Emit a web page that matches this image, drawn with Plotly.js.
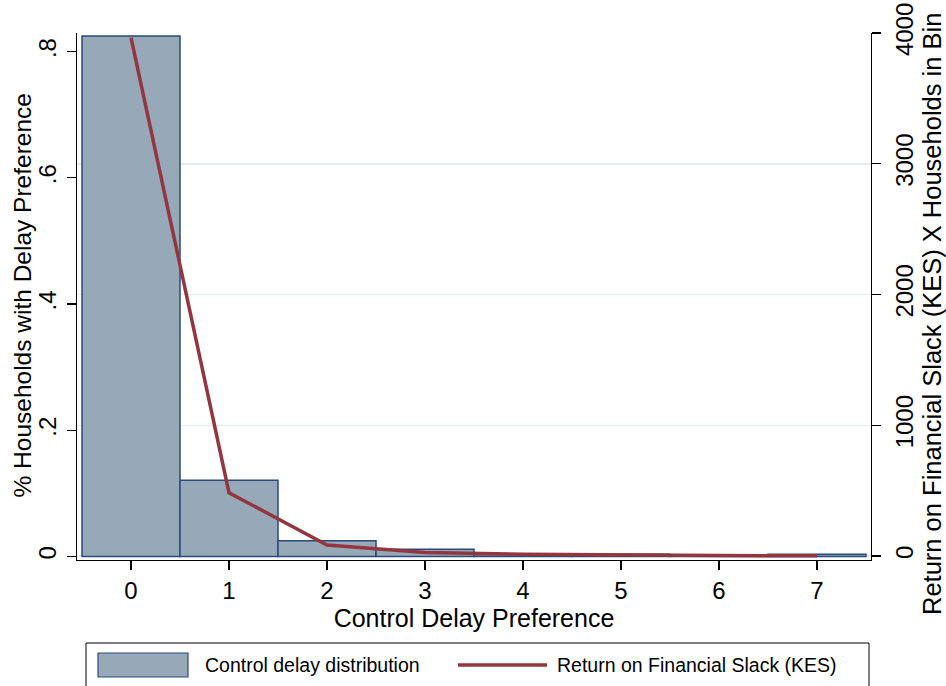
<!DOCTYPE html>
<html>
<head>
<meta charset="utf-8">
<script src="https://cdn.plot.ly/plotly-3.0.1.min.js"></script>
<style>html,body{margin:0;padding:0;background:#fff;}#chart{width:946px;height:686px;}</style>
</head>
<body>
<div id="chart"></div>
<script>
// ---- data ----
var delayCategories = [0, 1, 2, 3, 4, 5, 6, 7];
var shareHouseholds = [0.825, 0.121, 0.025, 0.0114, 0.003, 0.0035, 0.001, 0.0035];
var returnTimesHouseholds = [3965, 484, 84, 26, 14, 7, 3, 1];
var xTickVals = [0, 1, 2, 3, 4, 5, 6, 7];
var xTickText = ["0", "1", "2", "3", "4", "5", "6", "7"];
var leftTickVals = [0, 0.2, 0.4, 0.6, 0.8];
var leftTickText = ["0", ".2", ".4", ".6", ".8"];
var rightTickVals = [0, 1000, 2000, 3000, 4000];
var rightTickText = ["0", "1000", "2000", "3000", "4000"];
var xTitle = "Control Delay Preference";
var leftTitle = "% Households with Delay Preference";
var rightTitle = "Return on Financial Slack (KES) X Households in Bin";
var legendLabels = ["Control delay distribution", "Return on Financial Slack (KES)"];

// ---- geometry ----
var W = 946, H = 686;
var M = {l: 77, r: 75, t: 33, b: 126};
var plotW = W - M.l - M.r, plotH = H - M.t - M.b;
function px(x) { return (x - M.l) / plotW; }
function py(y) { return (H - M.b - y) / plotH; }

var FONT = "Liberation Sans, Arial, sans-serif";
var barFill = "#97a8b9", barLine = "#2b4a7c", lineCol = "#93363f";

var traces = [
  {
    type: "bar", x: delayCategories, y: shareHouseholds, width: 1,
    marker: {color: barFill, line: {color: barLine, width: 1.5}},
    name: legendLabels[0], xaxis: "x", yaxis: "y", hoverinfo: "skip"
  },
  {
    type: "scatter", mode: "lines", x: delayCategories, y: returnTimesHouseholds,
    line: {color: lineCol, width: 3.5}, name: legendLabels[1],
    xaxis: "x", yaxis: "y2", hoverinfo: "skip"
  }
];

var tickFont = {family: FONT, size: 24, color: "#000"};

var layout = {
  width: W, height: H,
  margin: M,
  paper_bgcolor: "#fff", plot_bgcolor: "#fff",
  showlegend: false,
  bargap: 0,
  xaxis: {
    range: [-0.551, 7.551], tickvals: xTickVals, ticktext: xTickText,
    ticks: "outside", ticklen: 9, tickcolor: "#000", tickwidth: 1.2,
    showline: true, linecolor: "#000", linewidth: 1.2,
    showgrid: false, zeroline: false, tickfont: tickFont,
    title: {text: xTitle, font: {family: FONT, size: 25, color: "#000"}, standoff: 4}
  },
  yaxis: {
    range: [-0.00555, 0.8296], tickvals: leftTickVals, ticktext: leftTickText,
    ticks: "outside", ticklen: 9, tickcolor: "#000", tickwidth: 1.2,
    tickangle: -90, ticklabelstandoff: 1,
    showline: true, linecolor: "#000", linewidth: 1.2,
    showgrid: false, zeroline: false, tickfont: tickFont
  },
  yaxis2: {
    overlaying: "y", side: "right",
    range: [-30.6, 4000], tickvals: rightTickVals, ticktext: rightTickText,
    ticks: "outside", ticklen: 9, tickcolor: "#000", tickwidth: 1.2,
    tickangle: -90, ticklabelstandoff: 3,
    showline: true, linecolor: "#000", linewidth: 1.2,
    showgrid: true, gridcolor: "#e4ebf0", gridwidth: 1.5,
    zeroline: false, tickfont: tickFont
  },
  shapes: [
    {type: "rect", xref: "paper", yref: "paper",
     x0: px(86), x1: px(869), y0: py(643), y1: py(700),
     line: {color: "#000", width: 1}, fillcolor: "rgba(0,0,0,0)"},
    {type: "rect", xref: "paper", yref: "paper",
     x0: px(98), x1: px(188), y0: py(653), y1: py(677),
     line: {color: barLine, width: 1.2}, fillcolor: barFill},
    {type: "line", xref: "paper", yref: "paper",
     x0: px(458), x1: px(547), y0: py(665), y1: py(665),
     line: {color: lineCol, width: 3.5}}
  ],
  annotations: [
    {xref: "paper", yref: "paper", x: px(22), y: py(295.5), xanchor: "center", yanchor: "middle",
     textangle: -90, text: leftTitle, showarrow: false,
     font: {family: FONT, size: 24.5, color: "#000"}},
    {xref: "paper", yref: "paper", x: px(932), y: py(314), xanchor: "center", yanchor: "middle",
     textangle: -90, text: rightTitle, showarrow: false,
     font: {family: FONT, size: 25.5, color: "#000"}},
    {xref: "paper", yref: "paper", x: px(203), y: py(665), xanchor: "left", yanchor: "middle",
     text: legendLabels[0], showarrow: false, font: {family: FONT, size: 19.5, color: "#000"}},
    {xref: "paper", yref: "paper", x: px(555), y: py(665), xanchor: "left", yanchor: "middle",
     text: legendLabels[1], showarrow: false, font: {family: FONT, size: 19.5, color: "#000"}}
  ]
};

Plotly.newPlot("chart", traces, layout, {staticPlot: true, displayModeBar: false});
</script>
</body>
</html>
